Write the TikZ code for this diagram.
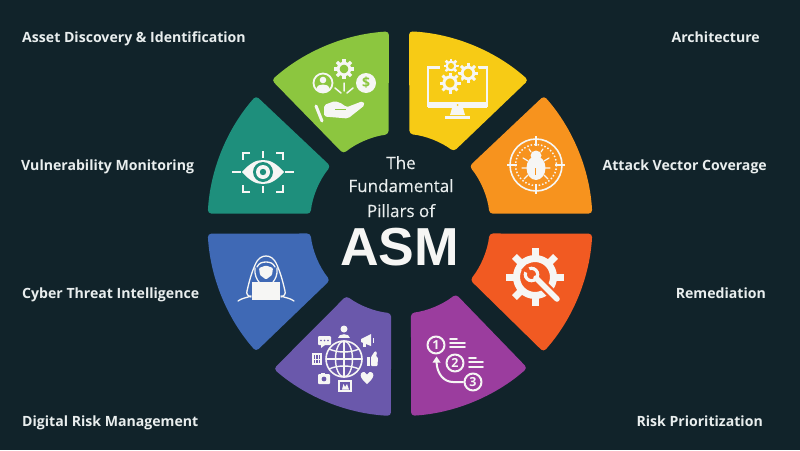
\documentclass[tikz,border=0pt]{standalone}
\usepackage{fontspec}
\setmainfont{Open Sans}
\newfontfamily\asmfont{Liberation Sans}
\newfontfamily\ctrfont[FakeBold=0.25]{Open Sans}
\definecolor{bgc}{HTML}{11232A}
\definecolor{cgreen}{HTML}{8CC63F}
\definecolor{cteal}{HTML}{1E8F7C}
\definecolor{cyellow}{HTML}{F7CB15}
\definecolor{corange}{HTML}{F7931E}
\definecolor{cred}{HTML}{F15A22}
\definecolor{cpurple}{HTML}{9B3D9E}
\definecolor{cviolet}{HTML}{6A58AB}
\definecolor{cblue}{HTML}{3F69B5}
\definecolor{ink}{HTML}{F6F6F4}
\definecolor{labelc}{HTML}{E9EEEE}
\newcommand{\sectorshape}[5]{%
  \fill[#1,rounded corners=3.5] ($(400,223.6)+(#2:192.5)$) arc[start angle=#2,end angle=#3,radius=192.5]
    -- ($(400,223.6)+(#4:90)$) arc[start angle=#4,end angle=#5,radius=90] -- cycle;}
\usetikzlibrary{calc}
\tikzset{
  x=1pt,y=-1pt,
  lab/.style={text=labelc,font=\fontsize{14.1}{16}\selectfont\bfseries,inner sep=0pt},
  ctr/.style={text=labelc,font=\ctrfont\fontsize{17}{18}\selectfont,inner sep=0pt,anchor=base},
  iconl/.style={draw=ink,line width=#1,line cap=round,line join=round},
  iconl/.default=1.6
}
\newcommand{\gearshape}[5]{% x y r toothwidth halo colour
  \begin{scope}[shift={(#1,#2)}]
    \fill[#5] (0,0) circle[radius=#3+1.5];
    \foreach \a in {0,45,...,315}{\draw[ink,line width=#4] (\a:#3*0.6)--(\a:#3);}
    \draw[ink,line width=#3*0.28] (0,0) circle[radius=#3*0.58];
  \end{scope}}
\begin{document}
\begin{tikzpicture}
\useasboundingbox (0,0) rectangle (800,450);
\fill[bgc] (0,0) rectangle (800,450);
% pillars
\sectorshape{cyellow}{-87.3}{-48.2}{-53.3}{-84}
\sectorshape{corange}{-41.6}{-3}{-6.3}{-39.6}
\sectorshape{cred}{3}{41.8}{38.8}{6.3}
\sectorshape{cpurple}{48.6}{86.7}{83}{51.6}
\sectorshape{cviolet}{92.7}{131}{126.6}{95.7}
\sectorshape{cblue}{138.4}{177}{173.7}{141}
\sectorshape{cteal}{183}{221.6}{219.6}{186.3}
\sectorshape{cgreen}{228.2}{266.7}{262.7}{231}
% labels
\node[lab,anchor=base west] (l1) at (22,42) {Asset Discovery \& Identification};
\node[lab,anchor=base west] (l2) at (21,170) {Vulnerability Monitoring};
\node[lab,anchor=base west] (l3) at (22,298) {Cyber Threat Intelligence};
\node[lab,anchor=base west] (l4) at (22,426) {Digital Risk Management};
\node[lab,anchor=base east] (r1) at (760,42) {Architecture};
\node[lab,anchor=base east] (r2) at (767,170) {Attack Vector Coverage};
\node[lab,anchor=base east] (r3) at (766,298) {Remediation};
\node[lab,anchor=base east] (r4) at (763,426) {Risk Prioritization};
% centre
\node[ctr] (c1) at (401,169) {The};
\node[ctr] (c2) at (401,192) {Fundamental};
\node[ctr] (c3) at (401,217) {Pillars of};
\node[text=ink,inner sep=0pt,anchor=base,font=\asmfont\fontsize{53.5}{54}\selectfont\bfseries] (c4) at (399.5,265) {ASM};
% --- green icon
\gearshape{344}{69}{10}{3.2}{cgreen}
\draw[iconl=1.8] (323,83) circle[radius=9.5];
\fill[ink] (323,80) circle[radius=3.3];
\fill[ink] (316,90) .. controls (317,85) and (320,84.5) .. (323,84.5) .. controls (326,84.5) and (329,85) .. (330,90) .. controls (326,93) and (320,93) .. (316,90) -- cycle;
\fill[ink] (366,83) circle[radius=10];
\node[text=cgreen,inner sep=0pt,font=\fontsize{14}{14}\selectfont\bfseries] (dollar) at (366,83) {\$};
\draw[iconl=1.5] (335,88)--(341,93) (344,83)--(344,91) (353,88)--(347,93);
\draw[iconl=3] (316,106)--(322,121);
\fill[ink,rounded corners=2] (324,105) -- (335,101) -- (343,104) -- (346,107.5) -- (363,101) -- (365,105) -- (348,118.5) -- (324,116.5) -- cycle;
\draw[cgreen,line width=1] (335,109.5)--(346,109.5);
% --- yellow icon
\draw[ink,line width=2.4] (440,67.5)--(428,67.5)--(428,106)--(487,106)--(487,67.5)--(478,67.5);
\fill[ink] (428,102)rectangle(487,108);
\fill[cyellow] (457.5,105) circle[radius=1];
\fill[ink] (452,108)--(463,108)--(465,115)--(450,115)--cycle;
\fill[ink] (445,116)rectangle(470,118.5);
\gearshape{451}{66}{7.5}{2.6}{cyellow}
\gearshape{468}{73}{10}{3}{cyellow}
\gearshape{450}{83}{10.5}{3}{cyellow}
% --- orange icon
\draw[ink,line width=1.6] (536,165) circle[radius=26];
\draw[ink,line width=1.5,dotted] (536,165) circle[radius=20.5];
\draw[ink,line width=2.8] (536,136)--(536,146) (536,184)--(536,194) (507,165)--(517,165) (555,165)--(565,165);
\fill[ink] (536,168) ellipse[x radius=9.5,y radius=12];
\fill[ink] (536,155.5) ellipse[x radius=5.5,y radius=5];
\draw[iconl=1.2] (531,152)--(529,149) (541,152)--(543,149) (528,161)--(523,158) (544,161)--(549,158) (527,168)--(522,168) (545,168)--(550,168) (528,175)--(524,179) (544,175)--(548,179);
\draw[corange,line width=1.3] (535.5,168)--(535.5,175);
% --- red icon
\foreach \a in {0,45,...,315}{\draw[ink,line width=7] ($(535,277)+(\a:18)$)--($(535,277)+(\a:29)$);}
\draw[ink,line width=7] (535,277) circle[radius=18.5];
\draw[cred,line width=10] (544,286)--(560,302);
\draw[ink,line width=5.5,line cap=round] (536,278)--(557,299);
\draw[ink,line width=3.2] (531.5,274.5) circle[radius=6.2];
\fill[cred] (532,275)--(521,270)--(527,264)--cycle;
% --- purple icon
\draw[iconl=2] (436,345) circle[radius=8.5];
\node[text=ink,inner sep=0pt,font=\fontsize{12.5}{12}\selectfont\bfseries] (n1) at (436,345) {1};
\draw[iconl=1.7] (450,339)--(457,339) (450,343)--(465,343) (450,347)--(465,347);
\draw[iconl=2] (455,363) circle[radius=8.5];
\node[text=ink,inner sep=0pt,font=\fontsize{12.5}{12}\selectfont\bfseries] (n2) at (455,363) {2};
\draw[iconl=1.7] (469,358)--(476,358) (469,362)--(483,362) (469,367)--(483,367);
\draw[iconl=2] (473,382) circle[radius=8.5];
\node[text=ink,inner sep=0pt,font=\fontsize{12.5}{12}\selectfont\bfseries] (n3) at (473,382) {3};
\draw[iconl=2] (463,382)--(453,382) .. controls (444,382) and (437,374) .. (436.5,362);
\fill[ink] (436.5,356.5)--(432.5,362.5)--(440.5,362.5)--cycle;
% --- violet icon
\draw[ink,line width=1.6] (344,359) circle[radius=18];
\draw[ink,line width=1.4] (344,359) ellipse[x radius=8.5,y radius=18];
\draw[ink,line width=1.4] (344,341)--(344,377) (326,359)--(362,359);
\draw[ink,line width=1.4] (329,349) .. controls (338,353) and (350,353) .. (359,349);
\draw[ink,line width=1.4] (329,369) .. controls (338,365) and (350,365) .. (359,369);
\fill[ink] (344,329) circle[radius=3.5];
\fill[ink] (338,338) .. controls (338,333) and (350,333) .. (350,338) -- cycle;
\fill[ink,rounded corners=1] (318,336) rectangle (331,345);
\fill[ink] (321,345)--(325,345)--(321,348)--cycle;
\fill[cviolet] (321,340.5) circle[radius=.8] (324.5,340.5) circle[radius=.8] (328,340.5) circle[radius=.8];
\fill[ink] (361,339)--(371,334)--(371,346)--(361,342)--cycle;
\fill[ink] (363,342) rectangle (366,347);
\draw[ink,line width=1] (373,338)--(373,343);
\draw[ink,line width=1.2] (313,354) rectangle (321,364);
\draw[ink,line width=.8] (315.5,354)--(315.5,364) (318.5,354)--(318.5,364) (313,359)--(321,359);
\fill[ink] (367,357) rectangle (370,366);
\fill[ink,rounded corners=1] (371,357) -- (375,351) -- (377,352) -- (376,357) -- (378,357) -- (377.5,366) -- (371,366) -- cycle;
\fill[ink,rounded corners=1] (318,374) rectangle (330,384);
\fill[ink] (321,372.5) rectangle (325,375);
\fill[cviolet] (324,379) circle[radius=2.4];
\fill[ink] (367,384) .. controls (361,379) and (360,376) .. (361,373.5) .. controls (363,371) and (366,372) .. (367,374.5) .. controls (368,372) and (371,371) .. (373,373.5) .. controls (374,376) and (373,379) .. (367,384) -- cycle;
\draw[ink,line width=1.2] (339,381) rectangle (351,391);
\fill[ink] (342,389.5)--(343.5,384)--(345,387)--(347,384)--(349,389.5)--cycle;
% --- blue icon
\draw[iconl=1.3] (247,291) .. controls (250,278) and (252,272) .. (255,265) .. controls (258,258) and (262,256) .. (266,256) .. controls (270,256) and (274,258) .. (277,265) .. controls (280,272) and (282,278) .. (285,291) .. controls (286,294) and (284,296) .. (281,297);
\draw[iconl=1.3] (247,291) .. controls (246,294) and (248,296) .. (251,297);
\draw[iconl=1.3] (238,301) .. controls (242,298) and (246,298) .. (251,296);
\draw[iconl=1.3] (294,301) .. controls (290,298) and (286,298) .. (281,296);
\draw[iconl=1.3] (257,267) .. controls (259,263) and (262,262) .. (266,262) .. controls (270,262) and (273,263) .. (275,267);
\draw[iconl=1.3] (255,268) .. controls (254,274) and (257,280) .. (259,282);
\draw[iconl=1.3] (277,268) .. controls (278,274) and (275,280) .. (273,282);
\fill[ink,rounded corners=1] (259,268) -- (266,265.5) -- (273,268) -- (272,275) -- (266,279.5) -- (260,275) -- cycle;
\fill[ink] (252,282) rectangle (279.5,299.5);
% --- teal icon
\draw[ink,line width=1.6] (232,172)--(241,172) (285,172)--(294,172) (263,151)--(263,158) (263,186)--(263,193);
\draw[ink,line width=1.6] (250,153)--(243,153)--(243,160) (276,153)--(283,153)--(283,160) (250,192)--(243,192)--(243,185) (276,192)--(283,192)--(283,185);
\fill[ink] (242,172) .. controls (250,163) and (256,160) .. (263,160) .. controls (270,160) and (276,163) .. (284,172) .. controls (276,181) and (270,184) .. (263,184) .. controls (256,184) and (250,181) .. (242,172) -- cycle;
\fill[cteal] (263,172) circle[radius=10];
\fill[ink] (263,172) circle[radius=7];
\fill[cteal] (263,172) circle[radius=3.2];
\end{tikzpicture}
\end{document}
